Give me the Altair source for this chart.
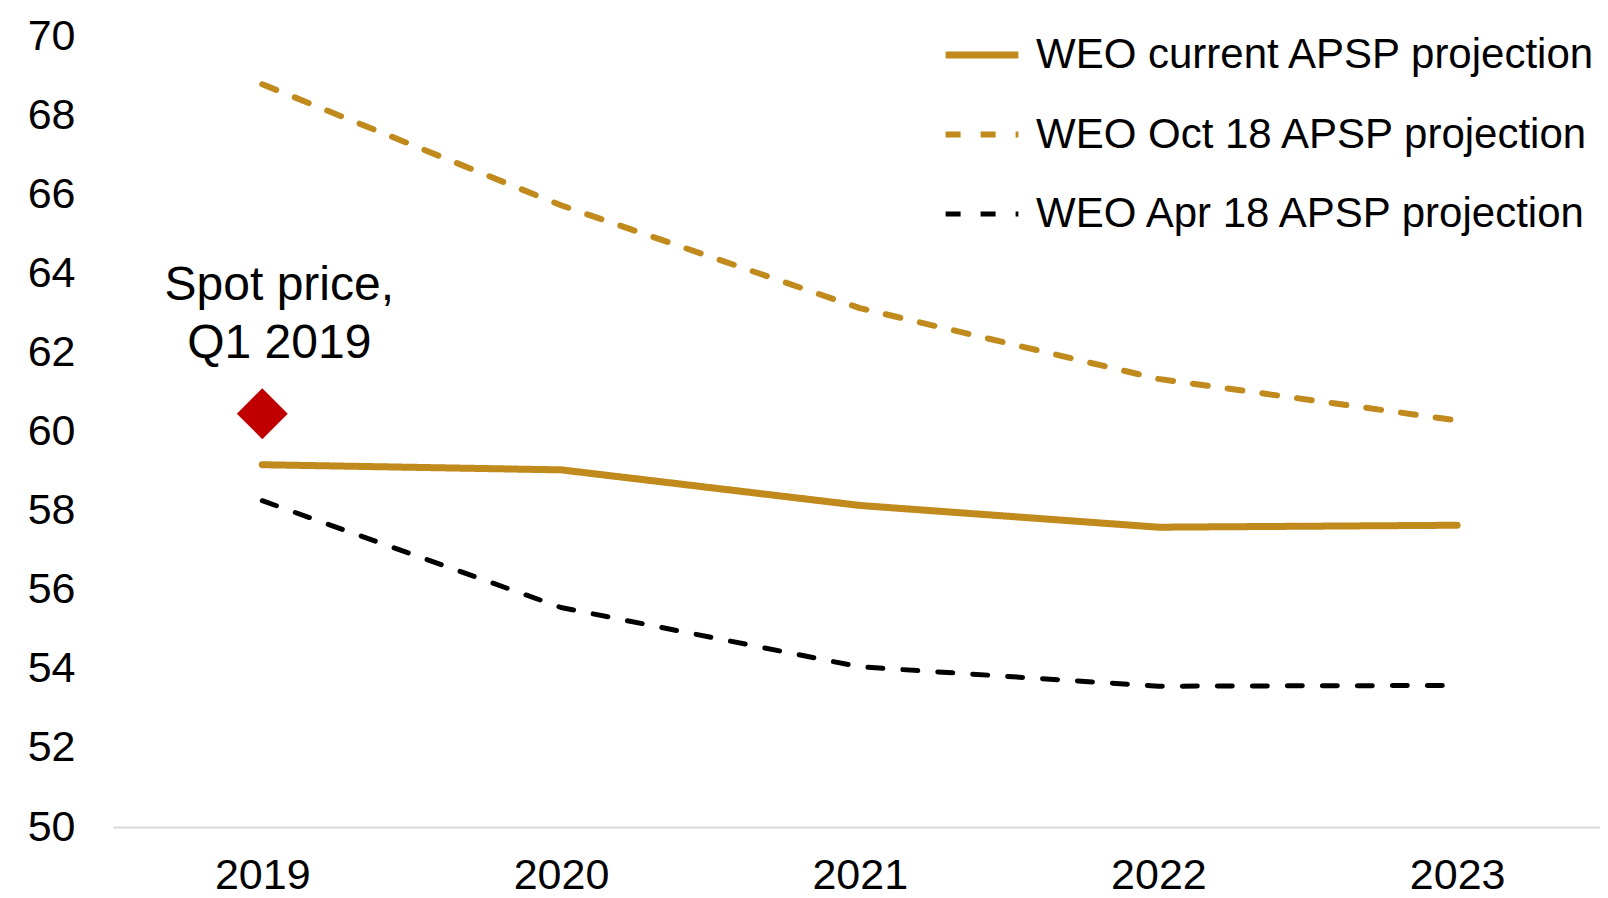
import altair as alt
import pandas as pd

years = ["2019", "2020", "2021", "2022", "2023"]
series_names = ["WEO current APSP projection", "WEO Oct 18 APSP projection", "WEO Apr 18 APSP projection"]
current_vals = [59.16, 59.03, 58.13, 57.58, 57.63]
oct18_vals = [68.78, 65.72, 63.12, 61.33, 60.28]
apr18_vals = [58.25, 55.55, 54.05, 53.56, 53.58]
series_colors = ["#C08A1C", "#C08A1C", "#000000"]
series_dash = [[1, 0], [15, 20], [15, 20]]
series_width = [7, 5, 5]

spot_year = ["2019"]
spot_value = [60.45]
note_lines = ["Spot price,", "Q1 2019"]
note_value = [63.68]

rows = []
for name, vals in zip(series_names, [current_vals, oct18_vals, apr18_vals]):
    for y, v in zip(years, vals):
        rows.append({"year": y, "value": v, "series": name})
df = pd.DataFrame(rows)

spot_df = pd.DataFrame({"year": spot_year, "value": spot_value})
note_df = pd.DataFrame({"year": spot_year, "value": note_value, "text": [note_lines]})

FONT = "Liberation Sans"
FS = 43

x_scale = alt.Scale(type="point", padding=0.489, align=0.511, domain=years)
x_enc = alt.X("year:O", sort=years, scale=x_scale,
              axis=alt.Axis(title=None, labelAngle=0, labelFontSize=FS, labelFont=FONT,
                            labelColor="#000000", ticks=False, domain=True,
                            domainColor="#D9D9D9", domainWidth=2, labelPadding=61,
                            labelBaseline="alphabetic", grid=False))
y_scale = alt.Scale(domain=[50, 70], nice=False, zero=False)

lines = alt.Chart(df).mark_line(strokeCap="round", strokeJoin="round").encode(
    x=x_enc,
    y=alt.Y("value:Q", scale=y_scale,
            axis=alt.Axis(title=None, values=list(range(50, 71, 2)), labelFontSize=FS,
                          labelFont=FONT, labelColor="#000000", ticks=False, domain=False,
                          grid=False, labelPadding=38)),
    color=alt.Color("series:N", sort=series_names,
                    scale=alt.Scale(domain=series_names, range=series_colors),
                    legend=alt.Legend(title=None)),
    strokeDash=alt.StrokeDash("series:N", sort=series_names,
                              scale=alt.Scale(domain=series_names, range=series_dash),
                              legend=alt.Legend(title=None)),
    strokeWidth=alt.StrokeWidth("series:N", sort=series_names,
                                scale=alt.Scale(domain=series_names, range=series_width),
                                legend=alt.Legend(title=None)),
)

spot = alt.Chart(spot_df).mark_point(shape="diamond", filled=True, size=2590,
                                       color="#C00000", opacity=1).encode(
    x=alt.X("year:O", sort=years, scale=x_scale),
    y=alt.Y("value:Q", scale=y_scale),
)

note = alt.Chart(note_df).mark_text(font=FONT, fontSize=48, color="#000000",
                                    align="center", baseline="middle",
                                    lineHeight=58, dx=17).encode(
    x=alt.X("year:O", sort=years, scale=x_scale),
    y=alt.Y("value:Q", scale=y_scale),
    text="text",
)

chart = alt.layer(lines, spot, note).properties(
    width=1487, height=791,
    autosize=alt.AutoSizeParams(type="none"),
    padding={"left": 105, "top": 28, "right": 0, "bottom": 63},
).configure_view(stroke=None).configure_legend(
    orient="none", legendX=829, legendY=-21,
    labelFontSize=42, labelFont=FONT, labelColor="#000000", labelLimit=800,
    symbolType="stroke", symbolSize=5300, labelOffset=14,
    rowPadding=19, padding=0,
)

chart.save("out.html", embed_options={"renderer": "svg", "actions": False})
